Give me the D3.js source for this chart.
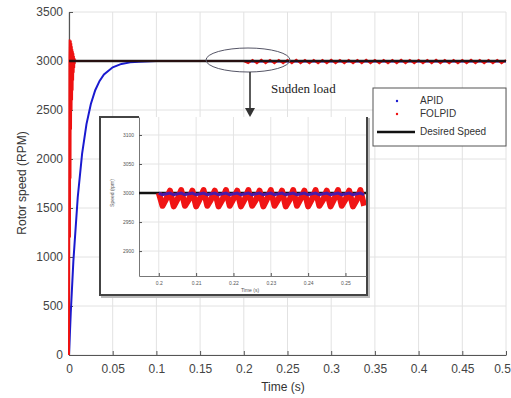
<!DOCTYPE html>
<html>
<head>
<meta charset="utf-8">
<script src="https://cdn.jsdelivr.net/npm/d3@7"></script>
<style>
  body { margin: 0; background: #fff; }
  text { font-family: "Liberation Sans", Arial, sans-serif; }
</style>
</head>
<body>
<svg id="chart" width="511" height="398"></svg>
<script>
// main axes ticks
const xTicks = [0, 0.05, 0.1, 0.15, 0.2, 0.25, 0.3, 0.35, 0.4, 0.45, 0.5];
const xTickLabels = ["0", "0.05", "0.1", "0.15", "0.2", "0.25", "0.3", "0.35", "0.4", "0.45", "0.5"];
const yTicks = [0, 500, 1000, 1500, 2000, 2500, 3000, 3500];

// desired speed
const desiredT = [0, 0.5];
const desiredV = [3000, 3000];

// APID (blue) - slow first order rise
const apidT = [0, 0.002, 0.005, 0.01, 0.015, 0.02, 0.025, 0.03, 0.035, 0.04, 0.05, 0.06, 0.07, 0.08, 0.1, 0.15, 0.2, 0.21, 0.25, 0.3, 0.35, 0.4, 0.45, 0.5];
const apidV = [0, 428, 958, 1610, 2054, 2356, 2561, 2702, 2797, 2862, 2936, 2970, 2986, 2993, 2999, 3000, 3000, 2995, 2996, 2995, 2996, 2995, 2996, 2995];

// FOLPID (red) - fast rise with chatter at start
const folpidStartT = [0, 0.0005, 0.0008, 0.0011, 0.0014, 0.0017, 0.002, 0.0023, 0.0026, 0.0029, 0.0032, 0.0035, 0.0038, 0.0041, 0.0044, 0.0047, 0.005, 0.0053, 0.0056, 0.0059, 0.0062, 0.0065, 0.0068, 0.008, 0.05, 0.1, 0.15, 0.2];
const folpidStartV = [0, 3000, 3220, 1200, 3200, 1800, 3210, 2300, 3180, 2500, 3150, 2600, 3120, 2700, 3100, 2800, 3080, 2880, 3050, 2930, 3030, 2970, 3010, 3000, 3000, 3000, 3000, 3000];
// FOLPID ripple after the sudden load (coarse, main plot)
const folpidLoadT = [0.205, 0.21, 0.215, 0.22, 0.225, 0.23, 0.235, 0.24, 0.245, 0.25, 0.255, 0.26, 0.265, 0.27, 0.275, 0.28, 0.285, 0.29, 0.295, 0.3, 0.305, 0.31, 0.315, 0.32, 0.325, 0.33, 0.335, 0.34, 0.345, 0.35, 0.355, 0.36, 0.365, 0.37, 0.375, 0.38, 0.385, 0.39, 0.395, 0.4, 0.405, 0.41, 0.415, 0.42, 0.425, 0.43, 0.435, 0.44, 0.445, 0.45, 0.455, 0.46, 0.465, 0.47, 0.475, 0.48, 0.485, 0.49, 0.495, 0.5];
const folpidLoadV = [2978, 3010, 2976, 3012, 2978, 3010, 2977, 3011, 2978, 3010, 2976, 3012, 2978, 3010, 2977, 3011, 2978, 3010, 2976, 3012, 2978, 3010, 2977, 3011, 2978, 3010, 2976, 3012, 2978, 3010, 2977, 3011, 2978, 3010, 2976, 3012, 2978, 3010, 2977, 3011, 2978, 3010, 2976, 3012, 2978, 3010, 2977, 3011, 2978, 3010, 2976, 3012, 2978, 3010, 2977, 3011, 2978, 3010, 2976, 3010];

// inset (zoom after the load)
const insetXTicks = [0.2, 0.21, 0.22, 0.23, 0.24, 0.25];
const insetXTickLabels = ["0.2", "0.21", "0.22", "0.23", "0.24", "0.25"];
const insetYTicks = [2900, 2950, 3000, 3050, 3100];
const insetRedT = [0.2, 0.201, 0.202, 0.203, 0.204, 0.205, 0.206, 0.207, 0.208, 0.209, 0.21, 0.211, 0.212, 0.213, 0.214, 0.215, 0.216, 0.217, 0.218, 0.219, 0.22, 0.221, 0.222, 0.223, 0.224, 0.225, 0.226, 0.227, 0.228, 0.229, 0.23, 0.231, 0.232, 0.233, 0.234, 0.235, 0.236, 0.237, 0.238, 0.239, 0.24, 0.241, 0.242, 0.243, 0.244, 0.245, 0.246, 0.247, 0.248, 0.249, 0.25, 0.251, 0.252, 0.253, 0.254, 0.255];
const insetRedV = [3000, 2978, 2990, 3004, 2977, 2989, 3005, 2978, 2988, 3004, 2977, 2990, 3005, 2978, 2989, 3004, 2977, 2988, 3005, 2978, 2990, 3004, 2977, 2989, 3005, 2978, 2988, 3004, 2977, 2990, 3005, 2978, 2989, 3004, 2977, 2988, 3005, 2978, 2990, 3004, 2977, 2989, 3005, 2978, 2988, 3004, 2977, 2990, 3005, 2978, 2989, 3004, 2977, 2988, 3005, 2978];
const insetBlueT = [0.2, 0.201, 0.203, 0.204, 0.206, 0.207, 0.209, 0.21, 0.212, 0.213, 0.215, 0.216, 0.218, 0.219, 0.221, 0.222, 0.224, 0.225, 0.227, 0.228, 0.23, 0.231, 0.233, 0.234, 0.236, 0.237, 0.239, 0.24, 0.242, 0.243, 0.245, 0.246, 0.248, 0.249, 0.251, 0.252, 0.254, 0.255];
const insetBlueV = [3000, 2997, 3000, 2997, 3000, 2997, 3000, 2997, 3000, 2997, 3000, 2997, 3000, 2997, 3000, 2997, 3000, 2997, 3000, 2997, 3000, 2997, 3000, 2997, 3000, 2997, 3000, 2997, 3000, 2997, 3000, 2997, 3000, 2997, 3000, 2997, 3000, 2997];

const legendNames = ["APID", "FOLPID", "Desired Speed"];

const svg = d3.select("#chart");
const x = d3.scaleLinear().domain([0, 0.5]).range([69, 506]);
const y = d3.scaleLinear().domain([0, 3500]).range([355, 12]);

const pts = (ts, vs, sx, sy) => ts.map((t, i) => [sx(t), sy(vs[i])]);

// grid
svg.append("g").selectAll("line").data(xTicks).join("line")
  .attr("x1", d => x(d)).attr("x2", d => x(d)).attr("y1", y(3500)).attr("y2", y(0))
  .attr("stroke", "#e2e2e2");
svg.append("g").selectAll("line").data(yTicks).join("line")
  .attr("x1", x(0)).attr("x2", x(0.5)).attr("y1", d => y(d)).attr("y2", d => y(d))
  .attr("stroke", "#e2e2e2");

// axes
const gx = svg.append("g").attr("transform", `translate(0,${y(0)})`)
  .call(d3.axisBottom(x).tickValues(xTicks).tickFormat((d, i) => xTickLabels[i]).tickSize(-4).tickSizeOuter(0).tickPadding(9));
const gy = svg.append("g").attr("transform", `translate(${x(0)},0)`)
  .call(d3.axisLeft(y).tickValues(yTicks).tickFormat(d3.format("d")).tickSize(-4).tickSizeOuter(0).tickPadding(6));
[gx, gy].forEach(g => {
  g.select(".domain").attr("stroke", "#555").attr("stroke-width", 1.2);
  g.selectAll(".tick line").attr("stroke", "#555");
  g.selectAll("text").attr("fill", "#444").style("font-size", "12px");
});
// last x label sits on the window edge; nudge it inside
gx.selectAll(".tick text").filter(d => d === 0.5).attr("dx", -4);

svg.append("text").attr("x", 283).attr("y", 391).attr("text-anchor", "middle")
  .attr("fill", "#333").style("font-size", "12px").text("Time (s)");
svg.append("text").attr("transform", "translate(26,183) rotate(-90)").attr("text-anchor", "middle")
  .attr("fill", "#333").style("font-size", "12px").text("Rotor speed (RPM)");

// series
const line = d3.line();
svg.append("path").datum(pts(apidT, apidV, x, y)).attr("d", line)
  .attr("fill", "none").attr("stroke", "#1a1ad0").attr("stroke-width", 2);
svg.append("path").datum(pts(folpidStartT.concat(folpidLoadT), folpidStartV.concat(folpidLoadV), x, y)).attr("d", line)
  .attr("fill", "none").attr("stroke", "#ee1111").attr("stroke-width", 2);
svg.append("path").datum(pts(desiredT, desiredV, x, y)).attr("d", line)
  .attr("fill", "none").attr("stroke", "#111").attr("stroke-width", 2.5).attr("opacity", 0.9);

// sudden load annotation
svg.append("ellipse").attr("cx", 248).attr("cy", 60).attr("rx", 42).attr("ry", 12)
  .attr("fill", "none").attr("stroke", "#556").attr("stroke-width", 1);
svg.append("line").attr("x1", 250).attr("x2", 250).attr("y1", 72).attr("y2", 109)
  .attr("stroke", "#333").attr("stroke-width", 1.6);
svg.append("path").attr("d", "M245,108 L255,108 L250,117 Z").attr("fill", "#333");
svg.append("text").attr("x", 271).attr("y", 93).attr("fill", "#222")
  .style("font-family", "'Liberation Serif', 'Times New Roman', serif").style("font-size", "13px").text("Sudden load");

// legend
const lg = svg.append("g");
lg.append("rect").attr("x", 373).attr("y", 88).attr("width", 133).attr("height", 58)
  .attr("fill", "#fff").attr("stroke", "#555").attr("stroke-width", 1);
lg.append("circle").attr("cx", 397).attr("cy", 101).attr("r", 1.2).attr("fill", "#1a1ad0");
lg.append("circle").attr("cx", 397).attr("cy", 114).attr("r", 1.2).attr("fill", "#ee1111");
lg.append("line").attr("x1", 377).attr("x2", 415).attr("y1", 132).attr("y2", 132)
  .attr("stroke", "#111").attr("stroke-width", 2.5);
legendNames.forEach((n, i) => {
  lg.append("text").attr("x", 420).attr("y", [104, 117, 135][i]).attr("fill", "#333")
    .style("font-size", "10px").text(n);
});

// inset
const ins = svg.append("g");
ins.append("rect").attr("x", 102).attr("y", 119).attr("width", 267).attr("height", 178)
  .attr("fill", "none").attr("stroke", "#bbb").attr("stroke-width", 2);
ins.append("rect").attr("x", 100).attr("y", 117).attr("width", 267).attr("height", 178)
  .attr("fill", "#fff").attr("stroke", "none");
ins.append("path").attr("d", "M139,117 L100,117 L100,295 L367,295 L367,117")
  .attr("fill", "none").attr("stroke", "#444").attr("stroke-width", 2);

const ix = d3.scaleLinear().domain([0.1947, 0.2555]).range([139, 366]);
const iy = d3.scaleLinear().domain([2857, 3131]).range([276, 117]);

svg.append("defs").append("clipPath").attr("id", "insetClip")
  .append("rect").attr("x", ix(0.1947)).attr("y", iy(3131))
  .attr("width", ix(0.2555) - ix(0.1947)).attr("height", iy(2857) - iy(3131));

ins.append("g").selectAll("line").data(insetXTicks).join("line")
  .attr("x1", d => ix(d)).attr("x2", d => ix(d)).attr("y1", iy(3131)).attr("y2", iy(2857))
  .attr("stroke", "#e4e4e4");
ins.append("g").selectAll("line").data(insetYTicks).join("line")
  .attr("x1", ix(0.1947)).attr("x2", ix(0.2555)).attr("y1", d => iy(d)).attr("y2", d => iy(d))
  .attr("stroke", "#e4e4e4");

const igx = ins.append("g").attr("transform", `translate(0,${iy(2857)})`)
  .call(d3.axisBottom(ix).tickValues(insetXTicks).tickFormat((d, i) => insetXTickLabels[i]).tickSize(-3).tickSizeOuter(0).tickPadding(5));
const igy = ins.append("g").attr("transform", `translate(${ix(0.1947)},0)`)
  .call(d3.axisLeft(iy).tickValues(insetYTicks).tickFormat(d3.format("d")).tickSize(-3).tickSizeOuter(0).tickPadding(5));
[igx, igy].forEach(g => {
  g.select(".domain").attr("stroke", "#777").attr("stroke-width", 1);
  g.selectAll(".tick line").attr("stroke", "#555");
  g.selectAll("text").attr("fill", "#555").style("font-size", "5px");
});
ins.append("text").attr("x", 250).attr("y", 292).attr("text-anchor", "middle")
  .attr("fill", "#555").style("font-size", "5px").text("Time (s)");
ins.append("text").attr("transform", "translate(114,193) rotate(-90)").attr("text-anchor", "middle")
  .attr("fill", "#555").style("font-size", "5px").text("Speed (rpm)");

const plot = ins.append("g").attr("clip-path", "url(#insetClip)");
plot.append("path").datum(pts(desiredT, desiredV, ix, iy)).attr("d", line)
  .attr("fill", "none").attr("stroke", "#111").attr("stroke-width", 2.5);
plot.append("path").datum(pts(insetRedT, insetRedV, ix, iy)).attr("d", line)
  .attr("fill", "none").attr("stroke", "#f01414").attr("stroke-width", 6).attr("stroke-linejoin", "round");
plot.append("path").datum(pts(insetBlueT, insetBlueV, ix, iy)).attr("d", line)
  .attr("fill", "none").attr("stroke", "#4a1aa8").attr("stroke-width", 3);
</script>
</body>
</html>
